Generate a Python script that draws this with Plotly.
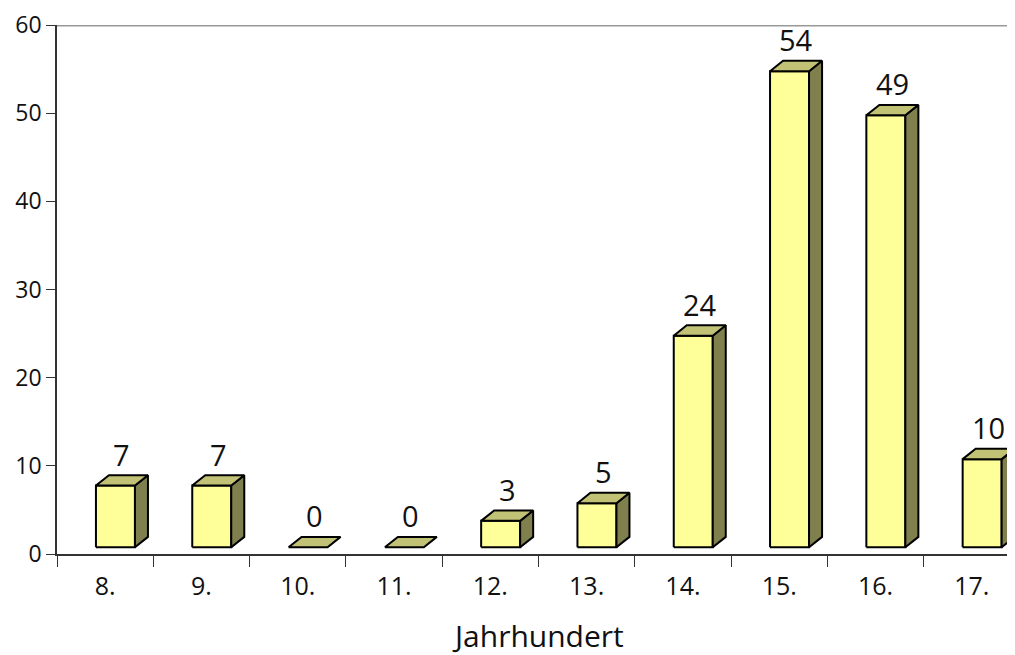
import plotly.graph_objects as go

categories = ["8.", "9.", "10.", "11.", "12.", "13.", "14.", "15.", "16.", "17."]
values = [7, 7, 0, 0, 3, 5, 24, 54, 49, 10]
y_ticks = [0, 10, 20, 30, 40, 50, 60]
x_title = "Jahrhundert"

FONT = "Open Sans"
FRONT = "#FFFF99"
TOP = "#C2C277"
SIDE = "#80804F"

# 3D look parameters (style)
off = 0.107      # front face center offset from category center
w = 0.405        # front face width
dx = 0.135       # depth offset in x units
dy = 1.18        # depth offset in y units
b = 0.76         # floor lift of front face

xs = list(range(len(categories)))

front_x, front_y, top_x, top_y, side_x, side_y = [], [], [], [], [], []
for i, v in zip(xs, values):
    x0 = i + off - w / 2
    x1 = i + off + w / 2
    yb = b
    yt = b + v
    if v > 0:
        front_x += [x0, x1, x1, x0, x0, None]
        front_y += [yb, yb, yt, yt, yb, None]
        side_x += [x1, x1 + dx, x1 + dx, x1, x1, None]
        side_y += [yb, yb + dy, yt + dy, yt, yb, None]
    top_x += [x0, x1, x1 + dx, x0 + dx, x0, None]
    top_y += [yt, yt, yt + dy, yt + dy, yt, None]

line = dict(color="black", width=2)
fig = go.Figure()
fig.add_trace(go.Scatter(x=front_x, y=front_y, fill="toself", fillcolor=FRONT,
                         mode="lines", line=line, hoverinfo="skip", showlegend=False))
fig.add_trace(go.Scatter(x=side_x, y=side_y, fill="toself", fillcolor=SIDE,
                         mode="lines", line=line, hoverinfo="skip", showlegend=False))
fig.add_trace(go.Scatter(x=top_x, y=top_y, fill="toself", fillcolor=TOP,
                         mode="lines", line=line, hoverinfo="skip", showlegend=False))
# invisible trace for the label axis
fig.add_trace(go.Scatter(x=xs, y=[0] * len(xs), xaxis="x2", mode="markers",
                         marker=dict(opacity=0), hoverinfo="skip", showlegend=False))

for i, v in zip(xs, values):
    fig.add_annotation(x=i + off + dx / 2, y=b + v + dy, text=str(v), showarrow=False,
                       yanchor="middle", yshift=21, font=dict(family=FONT, size=29, color="#111"))

fig.add_annotation(x=0.502, y=0, xref="paper", yref="paper", yanchor="middle", yshift=-81,
                   text=x_title, showarrow=False, font=dict(family=FONT, size=30, color="#111"))

xr = [-0.5, -0.5 + 958 / 96.3]
fig.update_layout(
    width=1007, height=647,
    margin=dict(l=49, r=0, t=17, b=101),
    paper_bgcolor="white", plot_bgcolor="white",
    xaxis=dict(range=xr, tickvals=[i - 0.5 for i in range(len(categories) + 1)],
               showticklabels=False, ticks="outside", ticklen=11, tickcolor="#333",
               showline=True, linecolor="#333", linewidth=1.5, showgrid=False, zeroline=False),
    xaxis2=dict(range=xr, overlaying="x", side="bottom", tickvals=xs, ticktext=categories,
                ticks="", showline=False, showgrid=False, zeroline=False,
                tickfont=dict(family=FONT, size=25, color="#111"), ticklabelstandoff=15),
    yaxis=dict(range=[0, 60], tickvals=y_ticks, ticks="outside", ticklen=9, tickcolor="#333",
               showline=True, linecolor="#333", linewidth=1.5, showgrid=False, zeroline=False,
               tickfont=dict(family=FONT, size=23, color="#111")),
    shapes=[dict(type="line", xref="paper", yref="y", x0=0, x1=1, y0=60, y1=60,
                 line=dict(color="#999", width=3))],
)

fig.write_html("out.html")
